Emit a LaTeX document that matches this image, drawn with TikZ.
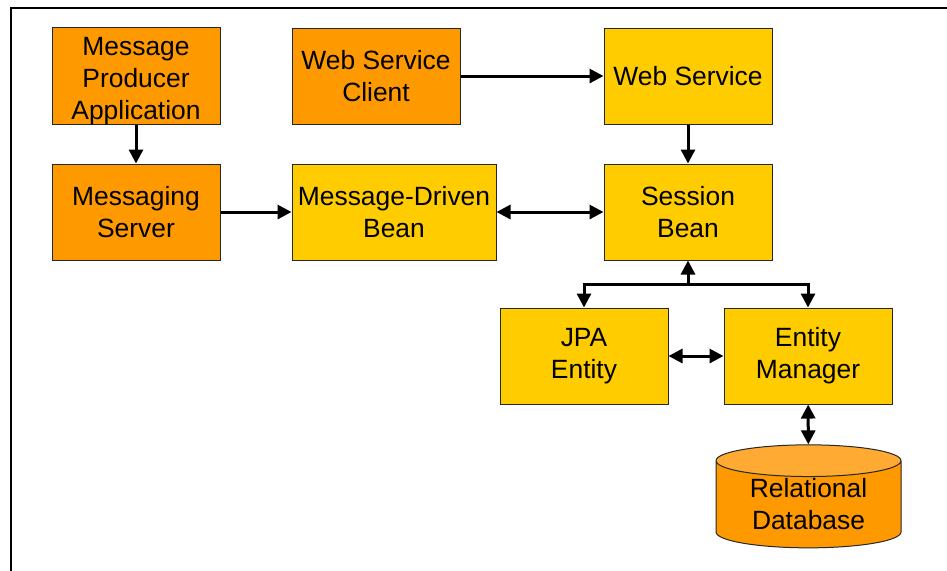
\documentclass[tikz,border=0pt]{standalone}
\usepackage{fontspec}
\setmainfont{Liberation Sans}
\usepackage{tikz}
\usetikzlibrary{arrows.meta}
\usetikzlibrary{shapes.geometric}

\definecolor{clientorange}{HTML}{FF9900}
\definecolor{beanyellow}{HTML}{FFCC00}
\definecolor{dbtop}{HTML}{FFAA33}

\begin{document}
\begin{tikzpicture}[x=0.5pt,y=-0.5pt,font=\fontsize{13.2}{16}\selectfont,
    box/.style={draw=black!85,line width=0.5pt,align=center,inner sep=0pt,minimum width=84pt,minimum height=48pt},
    client/.style={box,fill=clientorange},
    bean/.style={box,fill=beanyellow},
    link/.style={line width=1.5pt,-{Triangle[length=7pt,width=7pt]}},
    both/.style={line width=1.5pt,{Triangle[length=7pt,width=7pt]}-{Triangle[length=7pt,width=7pt]}}]
    \useasboundingbox (0,0) rectangle (947,570);
    \draw[line width=1pt] (11,600) |- (1000,8);
    % clients
    \node[client] (Producer) at (136,76) {\rule{0pt}{14pt}Message\\Producer\\Application};
    \node[client] (WS Client) at (376,76) {Web Service\\Client};
    \node[client] (Messaging Server) at (136,212) {Messaging\\Server};
    % beans
    \node[bean] (Web Service) at (688,76) {Web Service};
    \node[bean,minimum width=102pt] (MDB) at (394,212) {Message-Driven\\Bean};
    \node[bean] (Session Bean) at (688,212) {Session\\Bean};
    \node[bean] (JPA Entity) at (584,356) {JPA\\Entity};
    \node[bean] (Entity Manager) at (808,356) {Entity\\Manager};
    \node[cylinder,shape border rotate=90,aspect=0.27,draw=black!85,line width=0.5pt,align=center,
      cylinder uses custom fill,cylinder body fill=clientorange,cylinder end fill=dbtop,
      minimum width=92.5pt,minimum height=51.5pt,inner sep=0pt] (Database) at (808.5,504.5) {Relational\\Database};
    % connectors
    \draw[link] (Producer) -- (Messaging Server);
    \draw[link] (WS Client) -- (Web Service);
    \draw[link] (Web Service) -- (Session Bean);
    \draw[link] (Messaging Server) -- (MDB);
    \draw[both] (MDB) -- (Session Bean);
    \coordinate (split) at (688,284);
    \draw[link] (split) -- (Session Bean);
    \draw[link] (split) -| (JPA Entity);
    \draw[link] (split) -| (Entity Manager);
    \draw[both] (JPA Entity) -- (Entity Manager);
    \draw[both] (Entity Manager) -- (Database);
\end{tikzpicture}
\end{document}
